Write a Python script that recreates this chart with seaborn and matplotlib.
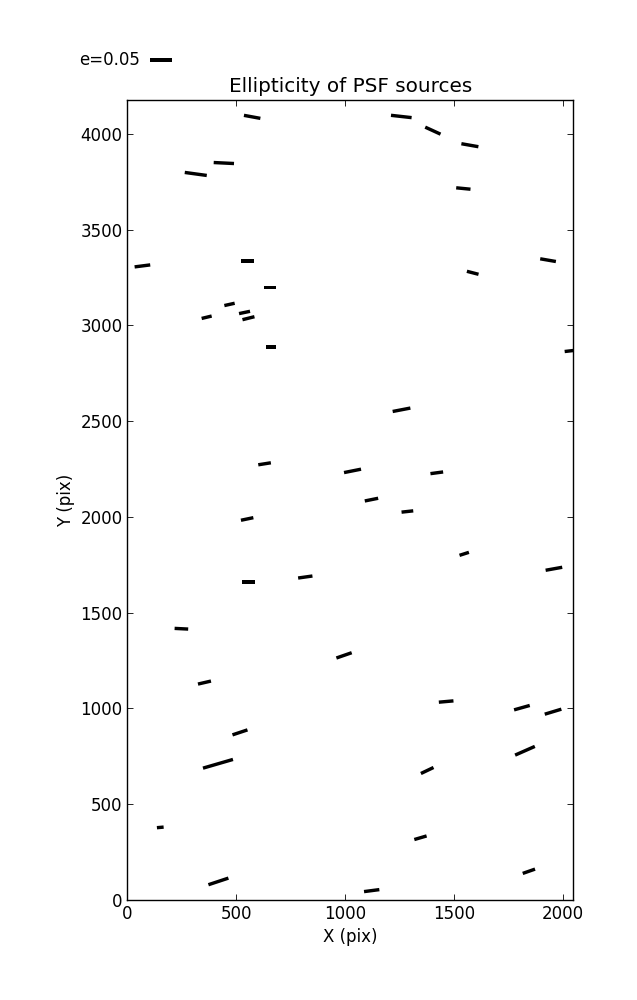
import numpy as np
import matplotlib
matplotlib.use("Agg")
import matplotlib.pyplot as plt
import seaborn as sns

# source positions (pix) and PSF ellipticity (magnitude, position angle in deg)
x_pos = [573, 443, 314, 69, 552, 655, 469, 364, 538, 556, 660,
         1258, 1403, 1573, 1543, 1932, 1586, 2046,
         630, 1034, 550, 556, 817, 248,
         1259, 1121, 1286, 1421, 1547, 1959,
         995, 354, 517, 416, 151, 418,
         1464, 1812, 1955, 1826, 1377, 1346, 1844, 1122]
y_pos = [4088, 3847, 3790, 3310, 3336, 3198, 3109, 3042, 3067, 3037, 2887,
         4090, 4016, 3940, 3714, 3340, 3274, 2868,
         2277, 2240, 1989, 1660, 1686, 1416,
         2559, 2090, 2028, 2230, 1807, 1729,
         1277, 1135, 875, 711, 379, 97,
         1036, 1004, 983, 779, 676, 325, 150, 49]
ell = [0.0374, 0.0456, 0.0498, 0.0353, 0.0307, 0.0285, 0.0237, 0.0231, 0.0252, 0.0277, 0.0233,
       0.0465, 0.0377, 0.0387, 0.0322, 0.0357, 0.0269, 0.0370,
       0.0286, 0.0389, 0.0284, 0.0276, 0.0324, 0.0305,
       0.0404, 0.0306, 0.0264, 0.0287, 0.0221, 0.0378,
       0.0363, 0.0299, 0.0354, 0.0700, 0.0151, 0.0472,
       0.0329, 0.0365, 0.0389, 0.0483, 0.0313, 0.0287, 0.0292, 0.0346]
pa_deg = [-10.4, -2.8, -7.8, 7.3, 0.0, 0.0, 12.6, 13.5, 11.8, 14.0, 0.0,
          -6.4, -24.6, -10.0, -5.6, -9.8, -14.5, 6.5,
          9.0, 11.3, 11.8, 0.0, 8.0, -2.9,
          10.9, 11.4, 6.3, 7.6, 17.7, 10.2,
          19.1, 13.0, 18.4, 16.2, 5.1, 18.3,
          5.1, 15.7, 16.8, 23.8, 25.5, 16.3, 19.3, 7.4]

sns.set_theme(style="ticks", context="notebook",
              rc={"xtick.direction": "in", "ytick.direction": "in",
                  "xtick.top": True, "ytick.right": True,
                  "xtick.major.size": 4, "ytick.major.size": 4,
                  "axes.linewidth": 1.0, "axes.edgecolor": "black",
                  "text.color": "black", "axes.labelcolor": "black",
                  "xtick.color": "black", "ytick.color": "black"})
plt.rcParams["font.family"] = ["DejaVu Sans"]
plt.rcParams["font.size"] = 12

fig = plt.figure(figsize=(6.37, 10), dpi=100)
ax = fig.add_axes([0.2, 0.1, 0.7, 0.8])

theta = np.deg2rad(pa_deg)
u = np.array(ell) * np.cos(theta)
v = np.array(ell) * np.sin(theta)

Q = ax.quiver(x_pos, y_pos, u, v, pivot="middle", headwidth=0, headlength=0,
              headaxislength=0, units="dots", width=3.4,
              scale=0.2242, scale_units="inches", color="black")
ax.quiverkey(Q, 0.235, 0.94, 0.05, "e=0.05", labelpos="W",
             coordinates="figure", fontproperties={"size": 12})

ax.set_xlim(0, 2048)
ax.set_ylim(0, 4176)
ax.set_xticks([0, 500, 1000, 1500, 2000])
ax.set_yticks([0, 500, 1000, 1500, 2000, 2500, 3000, 3500, 4000])
ax.tick_params(labelsize=12, colors="black", width=0.6)
ax.set_xlabel("X (pix)", fontsize=12)
ax.set_ylabel("Y (pix)", fontsize=12)
ax.set_title("Ellipticity of PSF sources", fontsize=14.4, color="black")

fig.savefig("out.png", dpi=100, facecolor="white")
